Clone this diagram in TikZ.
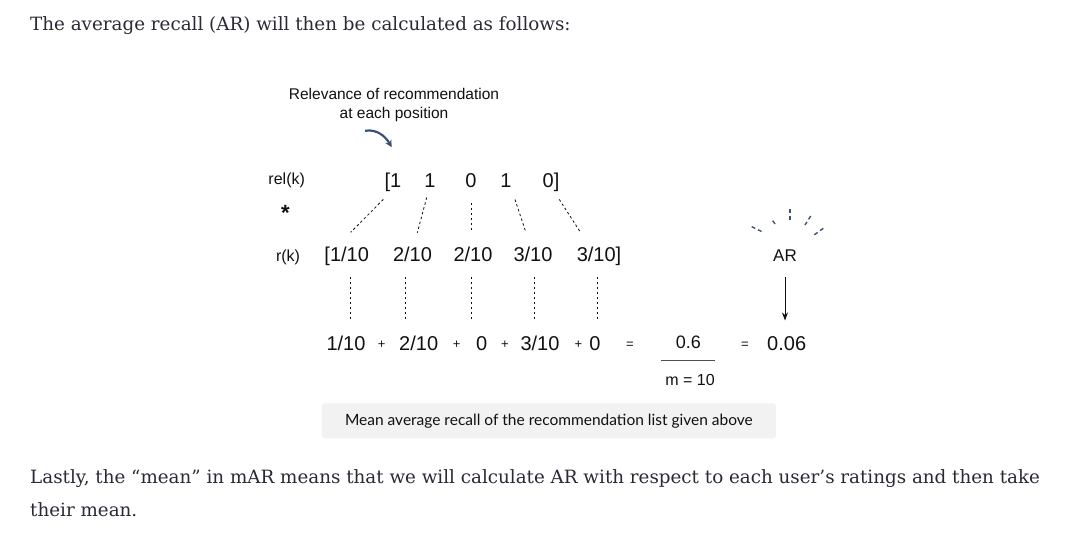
\documentclass[tikz,border=0pt]{standalone}
\usepackage{fontspec}
\setmainfont{DejaVu Serif}
\newfontfamily\helv{Liberation Sans}
\newfontfamily\capfont{Lato}
\usepackage{xcolor}
\usetikzlibrary{arrows.meta, positioning}
\definecolor{bodytext}{HTML}{2A2A36}
\definecolor{navy}{HTML}{3C5178}
\definecolor{capfill}{HTML}{F2F2F2}
\definecolor{ink}{HTML}{111111}

\begin{document}
\begin{tikzpicture}[
    x=1pt, y=-1pt,
    para/.style={font=\fontsize{18.3}{33}\selectfont, text=bodytext, anchor=base west, inner sep=0pt, align=left},
    num/.style={font=\helv\fontsize{20}{24}\selectfont, text=ink, inner sep=0pt, anchor=base},
    lbl/.style={font=\helv\fontsize{16}{19}\selectfont, text=ink, inner sep=0pt, anchor=base},
    op/.style={font=\helv\fontsize{13}{15}\selectfont, text=ink, inner sep=0pt, anchor=base},
    note/.style={font=\helv\fontsize{15.5}{18.5}\selectfont, text=ink, inner sep=0pt, anchor=base, align=center},
    caption/.style={rectangle, fill=capfill, rounded corners=3pt, minimum width=454pt, minimum height=35pt, font=\capfont\fontsize{15.5}{18}\selectfont, text=ink},
    dashline/.style={draw=ink, line width=0.8pt, dash pattern=on 2.5pt off 2.5pt},
    ray/.style={draw=navy, line width=1.4pt, dash pattern=on 4pt off 3pt},
    curved/.style={-{Stealth[length=7pt, width=7pt]}, draw=navy, line width=2.2pt},
    arrow/.style={-{Stealth[length=8pt, width=6pt]}, draw=ink, line width=0.8pt},
    fracrule/.style={draw=ink!75, line width=1.2pt}
]
    \fill[white] (0,0) rectangle (1071,533);
    \useasboundingbox (0,0) rectangle (1071,533);

    \node[para] (intro) at (30,30.7) {The average recall (AR) will then be calculated as follows:};

    \node[note] (relev) at (394,118) {Relevance of recommendation\\at each position};

    \node[lbl] (relk) at (286.7,184.5) {rel(k)};
    \node[lbl, font=\helv\bfseries\fontsize{22}{24}\selectfont] (times) at (285.5,220.5) {*};
    \node[lbl] (rk) at (288,261) {r(k)};

    \node[num] (rel1) at (393,187.5) {[1};
    \node[num] (rel2) at (430,187.5) {1};
    \node[num] (rel3) at (471,187.5) {0};
    \node[num] (rel4) at (506,187.5) {1};
    \node[num] (rel5) at (551,187.5) {0]};

    \node[num] (r1) at (346.7,261.7) {[1/10};
    \node[num] (r2) at (412.5,261.7) {2/10};
    \node[num] (r3) at (473,261.7) {2/10};
    \node[num] (r4) at (533,261.7) {3/10};
    \node[num] (r5) at (599,261.7) {3/10]};

    \node[num] (s1) at (346,350) {1/10};
    \node[op] (p1) at (381.7,348) {+};
    \node[num] (s2) at (418.7,350) {2/10};
    \node[op] (p2) at (456.7,348) {+};
    \node[num] (s3) at (481.7,350) {0};
    \node[op] (p3) at (505,348) {+};
    \node[num] (s4) at (540,350) {3/10};
    \node[op] (p4) at (578.3,348) {+};
    \node[num] (s5) at (595,350) {0};
    \node[op] (eq1) at (630,348) {=};

    \node[num, font=\helv\fontsize{18}{22}\selectfont] (sum) at (688.3,348.3) {0.6};
    \node[lbl] (den) at (690,385) {m = 10};
    \node[op] (eq2) at (745,348) {=};
    \node[num] (avg) at (786.7,350) {0.06};

    \node[lbl, font=\helv\fontsize{17}{20}\selectfont] (ar) at (785,261.7) {AR};

    \node[caption] (cap) at (548.9,420.8) {Mean average recall of the recommendation list given above};

    \node[para] (outro) at (30,516) {Lastly, the “mean” in mAR means that we will calculate AR with respect to each user’s ratings and then take\\their mean.};

    \draw[curved] ([xshift=-29pt,yshift=-9.4pt]relev.south) to[out=10, in=120] ([xshift=-1.3pt,yshift=25.6pt]rel1.north);

    \draw[dashline] ([xshift=-9.7pt,yshift=-7.6pt]rel1.south) -- ([xshift=4pt,yshift=14.7pt]r1.north);
    \draw[dashline] ([xshift=-3.3pt,yshift=-9.8pt]rel2.south) -- ([xshift=4.8pt,yshift=14.3pt]r2.north);
    \draw[dashline] ([yshift=-14.9pt]rel3.south) -- ([xshift=-2pt,yshift=14.3pt]r3.north);
    \draw[dashline] ([xshift=9pt,yshift=-11.8pt]rel4.south) -- ([xshift=-7pt,yshift=14.3pt]r4.north);
    \draw[dashline] ([xshift=8.3pt,yshift=-7.6pt]rel5.south) -- ([xshift=-18.3pt,yshift=14.3pt]r5.north);

    \draw[dashline] ([xshift=3.3pt,yshift=-10.8pt]r1.south) -- ([xshift=4pt,yshift=15.4pt]s1.north);
    \draw[dashline] ([xshift=-7.5pt,yshift=-14.7pt]r2.south) -- ([xshift=-13.7pt,yshift=15.4pt]s2.north);
    \draw[dashline] ([xshift=-2pt,yshift=-14.7pt]r3.south) -- ([xshift=-10.7pt,yshift=15.4pt]s3.north);
    \draw[dashline] ([xshift=1pt,yshift=-14.7pt]r4.south) -- ([xshift=-6pt,yshift=15.4pt]s4.north);
    \draw[dashline] ([xshift=-2pt,yshift=-10.8pt]r5.south) -- ([xshift=2pt,yshift=15.4pt]s5.north);

    \draw[fracrule] ([xshift=-4pt,yshift=13.5pt]den.north west) -- ([yshift=13.5pt]den.north east);

    \draw[arrow, shorten <=15pt, shorten >=15.4pt] (ar.south) -- (ar.south |- avg.north);

    \draw[ray] (751.7,226.7) -- (763.3,232.3);
    \draw[ray] (772.7,220.7) -- (775.3,224.3);
    \draw[ray] (790,209.3) -- (790,220.7);
    \draw[ray] (810.7,216) -- (805,225);
    \draw[ray] (823.3,228.3) -- (812.7,236);
\end{tikzpicture}
\end{document}
